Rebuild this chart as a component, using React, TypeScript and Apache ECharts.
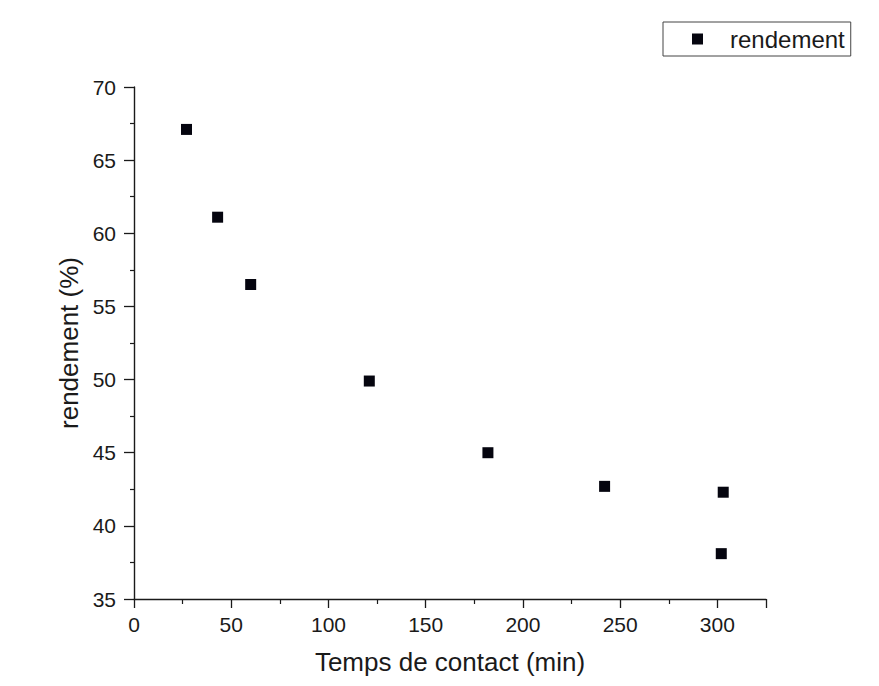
import React, { useEffect, useRef } from "react";
import * as echarts from "echarts";

const seriesName = "rendement";
const tempsMin = [27, 43, 60, 121, 182, 242, 303, 302];
const rendementPct = [67.1, 61.1, 56.5, 49.9, 45.0, 42.7, 42.3, 38.1];
const xAxisTitle = "Temps de contact (min)";
const yAxisTitle = "rendement (%)";

export default function App() {
  const ref = useRef<HTMLDivElement>(null);
  useEffect(() => {
    if (!ref.current) return;
    const chart = echarts.init(ref.current, undefined, { renderer: "svg" });
    const font = "'Liberation Sans', Arial, sans-serif";
    const axisColor = "#1a1a1a";
    chart.setOption({
      animation: false,
      backgroundColor: "#fff",
      textStyle: { fontFamily: font },
      grid: { left: 134, right: 113, top: 87, bottom: 87 },
      legend: {
        left: 663,
        top: 22,
        orient: "horizontal",
        borderColor: "#444",
        borderWidth: 1,
        borderRadius: 0,
        padding: [5, 6, 5, 29],
        itemWidth: 11,
        itemHeight: 11,
        data: [seriesName],
        textStyle: {
          fontFamily: font,
          fontSize: 24,
          color: "#1a1a1a",
          padding: [0, 0, 0, 22],
        },
      },
      xAxis: {
        type: "value",
        min: 0,
        max: 325,
        interval: 50,
        name: xAxisTitle,
        nameLocation: "middle",
        nameGap: 50,
        nameTextStyle: { fontFamily: font, fontSize: 26, color: "#1a1a1a" },
        axisLine: { show: true, lineStyle: { color: axisColor, width: 1.4 } },
        axisTick: { show: true, length: 9, lineStyle: { color: axisColor, width: 1.3 } },
        minorTick: { show: true, splitNumber: 2, length: 5, lineStyle: { color: axisColor, width: 1.2 } },
        axisLabel: { fontFamily: font, fontSize: 21, color: "#1a1a1a", margin: 15, showMaxLabel: false },
        splitLine: { show: false },
      },
      yAxis: {
        type: "value",
        min: 35,
        max: 70,
        interval: 5,
        name: yAxisTitle,
        nameLocation: "middle",
        nameGap: 49,
        nameRotate: 90,
        nameTextStyle: { fontFamily: font, fontSize: 26, color: "#1a1a1a" },
        axisLine: { show: true, lineStyle: { color: axisColor, width: 1.4 } },
        axisTick: { show: true, length: 10, lineStyle: { color: axisColor, width: 1.3 } },
        minorTick: { show: true, splitNumber: 2, length: 4, lineStyle: { color: axisColor, width: 1.2 } },
        axisLabel: { fontFamily: font, fontSize: 21, color: "#1a1a1a", margin: 18 },
        splitLine: { show: false },
      },
      series: [
        {
          name: seriesName,
          type: "scatter",
          symbol: "rect",
          symbolSize: 11,
          itemStyle: { color: "#05050f", opacity: 1 },
          data: tempsMin.map((t, i) => [t, rendementPct[i]]),
        },
      ],
    });
    return () => chart.dispose();
  }, []);
  return (
    <div
      ref={ref}
      style={{ position: "fixed", left: 0, top: 0, width: 879, height: 686, background: "#fff" }}
    />
  );
}
